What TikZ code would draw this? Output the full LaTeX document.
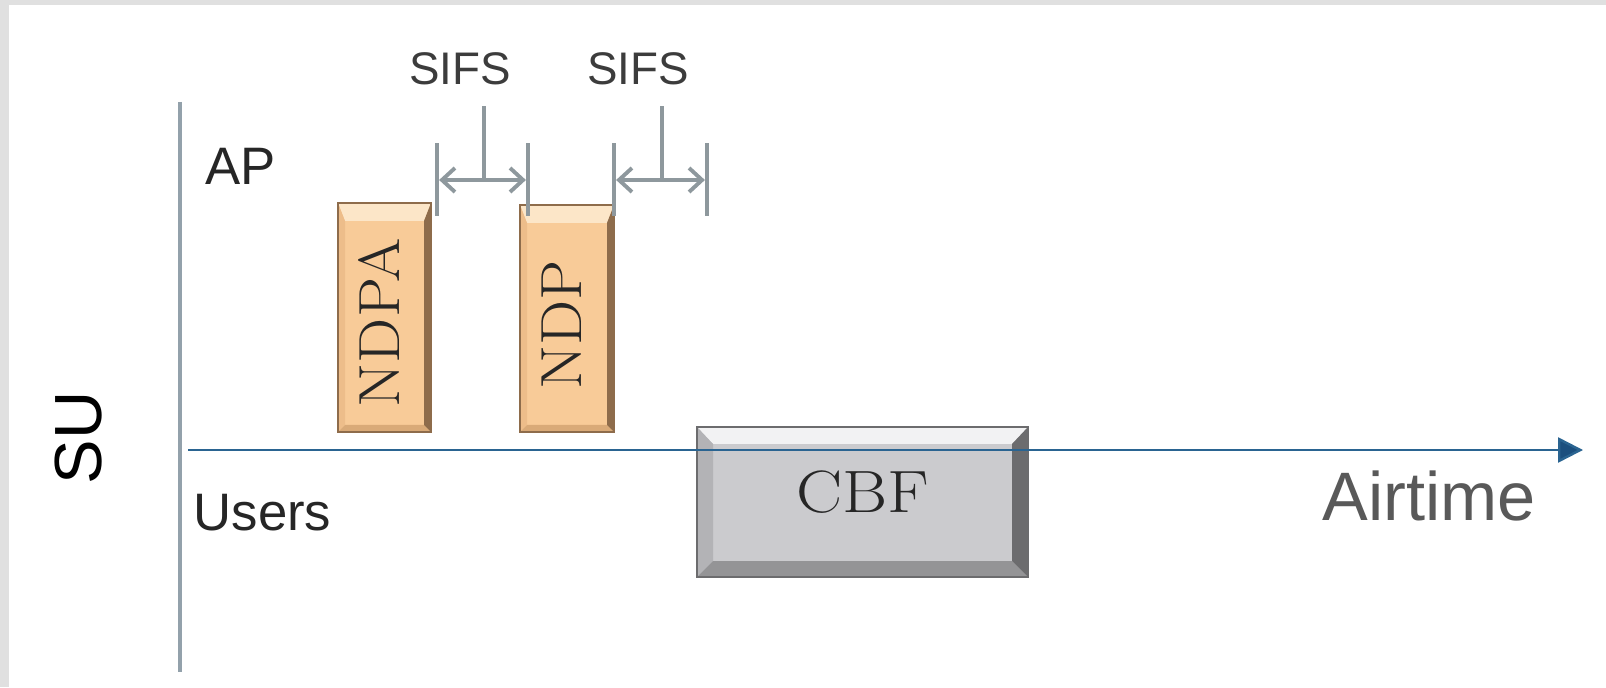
\documentclass[tikz,border=0pt]{standalone}
\usepackage{fontspec}
\usetikzlibrary{arrows.meta}
\newfontfamily\labelsans{Liberation Sans}
\definecolor{frame}{HTML}{E0E0E0}
\definecolor{ink}{HTML}{262626}
\definecolor{soft}{HTML}{595959}
\definecolor{vline}{HTML}{93A1AB}
\definecolor{tline}{HTML}{2A6491}
\definecolor{tip}{HTML}{1B4F7E}
\definecolor{tick}{HTML}{8E989D}
\definecolor{ndpbody}{HTML}{F8CB98}
\definecolor{ndplit}{HTML}{FCE6C8}
\definecolor{ndpside}{HTML}{EDBD8A}
\definecolor{ndpmid}{HTML}{D9AA78}
\definecolor{ndpdrk}{HTML}{8E6C4B}
\definecolor{cbfbody}{HTML}{CBCBCE}
\definecolor{cbflit}{HTML}{F2F2F3}
\definecolor{cbfside}{HTML}{B3B3B6}
\definecolor{cbfmid}{HTML}{949496}
\definecolor{cbfdrk}{HTML}{6C6C6E}

\begin{document}
\begin{tikzpicture}[
  text=ink,
  label/.style={font=\labelsans\fontsize{15}{18}\selectfont,anchor=base west,inner sep=0pt},
  sifs/.style={font=\labelsans\fontsize{13}{15}\selectfont,text=ink!90!white},
  boxtext/.style={font=\fontsize{16.5}{20}\selectfont,text=ink,xscale=1.1},
  marker/.style={draw=tick,line width=1.4pt},
  span/.style={{Straight Barb[length=1.3mm,width=2.4mm]}-{Straight Barb[length=1.3mm,width=2.4mm]},
    draw=tick,line width=1.1pt,shorten <=.6pt,shorten >=.6pt},
  vaxis/.style={draw=vline,line width=1.3pt},
  taxis/.style={-{Triangle[length=2.5mm,width=2.5mm,fill=tip]},draw=tline,line width=.7pt}
]
  \useasboundingbox (0,0) rectangle (16.06,6.87);
  \fill[frame] (0,0) rectangle (16.06,6.87);
  \fill[white] (.09,0) rectangle (16.06,6.82);

  % bevelled frames: NDPA, NDP and CBF (top band \bt, other sides \bs)
  \foreach \xa/\ya/\xb/\yb/\bt/\bs/\tone in {3.38/2.55/4.31/4.84/.18/.07/ndp,
      5.20/2.55/6.14/4.82/.18/.07/ndp,6.97/1.10/10.28/2.60/.17/.16/cbf}{
    \fill[\tone body] (\xa,\ya) rectangle (\xb,\yb);
    \fill[\tone lit] (\xa,\yb) -- (\xb,\yb) -- ({\xb-\bs},{\yb-\bt})
      -- ({\xa+\bs},{\yb-\bt}) -- cycle;
    \fill[\tone side] (\xa,\ya) -- (\xa,\yb) -- ({\xa+\bs},{\yb-\bt})
      -- ({\xa+\bs},{\ya+\bs}) -- cycle;
    \fill[\tone mid] (\xa,\ya) -- (\xb,\ya) -- ({\xb-\bs},{\ya+\bs})
      -- ({\xa+\bs},{\ya+\bs}) -- cycle;
    \fill[\tone drk] (\xb,\ya) -- (\xb,\yb) -- ({\xb-\bs},{\yb-\bt})
      -- ({\xb-\bs},{\ya+\bs}) -- cycle;
    \draw[\tone drk,line width=.5pt] (\xa,\ya) rectangle (\xb,\yb);
  }
  \node[rotate=90,boxtext] (ndpa) at (3.79,3.64) {NDPA};
  \node[rotate=90,boxtext] (ndp) at (5.62,3.62) {NDP};
  \node[boxtext,font=\fontsize{17}{20}\selectfont,xscale=1.05] (cbf) at (8.63,1.95) {CBF};

  % axes
  \coordinate (vtop) at (1.80,5.85);
  \coordinate (vbot) at (1.80,0.15);
  \draw[vaxis] (vtop) -- (vbot);
  \coordinate (origin) at (1.88,2.37);
  \coordinate (tend) at (15.83,2.37);
  \draw[taxis] (origin) -- (tend);

  \node[rotate=90,font=\labelsans\fontsize{19}{22}\selectfont,text=black]
    (su) at (0.79,2.49) {SU};
  \node[label] (ap) at (2.05,5.02) {AP};
  \node[label] (users) at (1.93,1.57) {Users};
  \node[label,font=\labelsans\fontsize{19.5}{23}\selectfont,text=soft]
    (airtime) at (13.22,1.67) {Airtime};

  % SIFS gaps
  \foreach \i/\xa/\xb/\xm in {1/4.37/5.28/4.84,2/6.14/7.07/6.62}{
    \draw[marker] (\xa,4.71) -- (\xa,5.44);
    \draw[marker] (\xb,4.71) -- (\xb,5.44);
    \coordinate (gap\i-l) at (\xa,5.07);
    \coordinate (gap\i-r) at (\xb,5.07);
    \draw[span] (gap\i-l) -- (gap\i-r);
    \draw[marker] (\xm,5.07) -- (\xm,5.81);
    \node[sifs] (sifs\i) at ({\xm-.24},6.18) {SIFS};
  }
\end{tikzpicture}
\end{document}
